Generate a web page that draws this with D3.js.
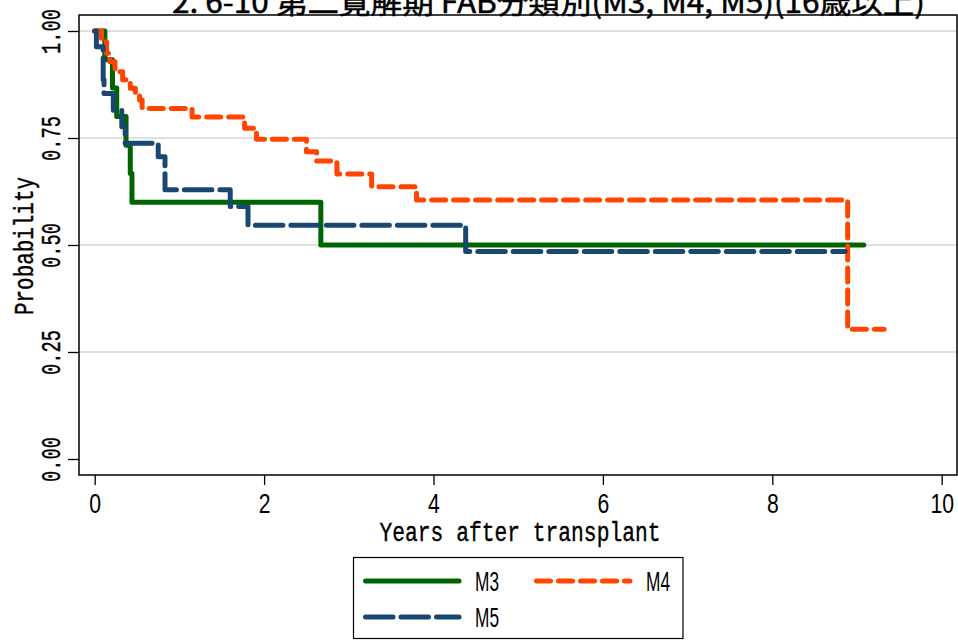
<!DOCTYPE html>
<html><head><meta charset="utf-8">
<script src="https://cdn.jsdelivr.net/npm/d3@7"></script>
<style>body{margin:0;background:#fff} svg{display:block}</style>
</head><body><svg id="c" width="958" height="641"></svg>
<script>
// ---- data ----
const titleText = "2. 6-10 第二寛解期 FAB分類別(M3, M4, M5)(16歳以上)";
const xLabel = "Years after transplant";
const yLabel = "Probability";
const xTicks = [0, 2, 4, 6, 8, 10];
const yTicks = [0, 0.25, 0.5, 0.75, 1];
const yTickLabels = ["0.00", "0.25", "0.50", "0.75", "1.00"];
const seriesNames = ["M3", "M4", "M5"];
const seriesColors = ["#006400", "#ff4500", "#1a476f"];
const m3Times = [0, 0.12, 0.21, 0.26, 0.37, 0.42, 0.44, 2.67, 9.08];
const m3Surv  = [1, 0.933, 0.867, 0.8, 0.733, 0.667, 0.6, 0.5, 0.5];
const m4Times = [0, 0.08, 0.14, 0.18, 0.24, 0.33, 0.42, 0.48, 0.53, 0.56, 1.15, 1.77, 1.91, 2.50, 2.62, 2.86, 3.27, 3.80, 8.89, 9.32];
const m4Surv  = [1, 0.975, 0.948, 0.928, 0.905, 0.886, 0.866, 0.850, 0.839, 0.819, 0.799, 0.773, 0.747, 0.718, 0.696, 0.666, 0.636, 0.605, 0.303, 0.303];
const m5Times = [0, 0.02, 0.10, 0.11, 0.22, 0.32, 0.36, 0.75, 0.83, 1.60, 1.81, 4.38, 8.86];
const m5Surv  = [1, 0.963, 0.886, 0.854, 0.815, 0.776, 0.738, 0.706, 0.629, 0.59, 0.546, 0.485, 0.485];

// ---- layout ----
const svg = d3.select("#c");
const frame = {l: 79, t: 15, r: 957, b: 475};
const x = d3.scaleLinear().domain([0, 10]).range([94.7, 941.7]);
const y = d3.scaleLinear().domain([0, 1]).range([459, 31]);
const monoFont = "'Liberation Mono', 'DejaVu Sans Mono', monospace";
const digitFont = "'Liberation Sans', Arial, sans-serif";

svg.append("rect").attr("width", 958).attr("height", 641).attr("fill", "#fff");

// title
svg.append("text").attr("x", 172).attr("y", 12.5)
  .attr("font-family", "'Noto Sans CJK JP', sans-serif").attr("font-size", 30).attr("font-weight", 400)
  .attr("textLength", 753).attr("lengthAdjust", "spacingAndGlyphs")
  .attr("fill", "#000").attr("stroke", "#000").attr("stroke-width", 0.5).text(titleText);

// gridlines
svg.append("g").selectAll("line").data(yTicks.filter(d => d > 0)).join("line")
  .attr("x1", frame.l).attr("x2", frame.r)
  .attr("y1", d => y(d)).attr("y2", d => y(d))
  .attr("stroke", "#e0e0e0").attr("stroke-width", 2);

// axes
const gx = svg.append("g").attr("transform", `translate(0,${frame.b})`)
  .call(d3.axisBottom(x).tickValues(xTicks).tickSizeInner(10).tickSizeOuter(0).tickFormat(d3.format("d")));
gx.select(".domain").remove();
gx.selectAll(".tick line").attr("stroke", "#000").attr("stroke-width", 1.3);
gx.selectAll(".tick text").attr("y", 38).attr("dy", null)
  .attr("font-family", digitFont).attr("font-size", 27).attr("fill", "#000")
  .attr("textLength", d => String(d).length * 11.8).attr("lengthAdjust", "spacingAndGlyphs");

const gy = svg.append("g").attr("transform", `translate(${frame.l},0)`)
  .call(d3.axisLeft(y).tickValues(yTicks).tickSizeInner(11).tickSizeOuter(0).tickFormat((d, i) => yTickLabels[i]));
gy.select(".domain").remove();
gy.selectAll(".tick line").attr("stroke", "#000").attr("stroke-width", 1.3);
gy.selectAll(".tick text").attr("x", null).attr("dy", null).attr("text-anchor", "middle")
  .attr("transform", "translate(-19,0) rotate(-90)")
  .attr("font-family", monoFont).attr("font-size", 28).attr("fill", "#000")
  .attr("stroke", "#000").attr("stroke-width", 0.4)
  .attr("textLength", 45).attr("lengthAdjust", "spacingAndGlyphs");

// axis titles
svg.append("text").attr("x", 520).attr("y", 541).attr("text-anchor", "middle")
  .attr("font-family", monoFont).attr("font-size", 27)
  .attr("stroke", "#000").attr("stroke-width", 0.4)
  .attr("textLength", 281).attr("lengthAdjust", "spacingAndGlyphs").text(xLabel);
svg.append("text").attr("transform", "translate(33,246) rotate(-90)").attr("text-anchor", "middle")
  .attr("font-family", monoFont).attr("font-size", 27)
  .attr("stroke", "#000").attr("stroke-width", 0.4)
  .attr("textLength", 138).attr("lengthAdjust", "spacingAndGlyphs").text(yLabel);

// curves
const series = [
  {name: seriesNames[0], t: m3Times, s: m3Surv, color: seriesColors[0], dash: null},
  {name: seriesNames[1], t: m4Times, s: m4Surv, color: seriesColors[1], dash: "14,8"},
  {name: seriesNames[2], t: m5Times, s: m5Surv, color: seriesColors[2], dash: "27.5,8"}
];
const line = d3.line().x(d => x(d[0])).y(d => y(d[1])).curve(d3.curveStepAfter);
svg.append("g").selectAll("path").data(series).join("path")
  .attr("d", d => line(d.t.map((t, i) => [t, d.s[i]])))
  .attr("fill", "none").attr("stroke", d => d.color).attr("stroke-width", 5)
  .attr("stroke-linecap", "round").attr("stroke-linejoin", "round")
  .attr("stroke-dasharray", d => d.dash);

// frame
svg.append("rect").attr("x", frame.l).attr("y", frame.t)
  .attr("width", frame.r - frame.l).attr("height", frame.b - frame.t)
  .attr("fill", "none").attr("stroke", "#000").attr("stroke-width", 1.5);

// legend
const lg = svg.append("g");
lg.append("rect").attr("x", 353.5).attr("y", 557.5).attr("width", 329.5).attr("height", 81)
  .attr("fill", "#fff").attr("stroke", "#000").attr("stroke-width", 1.2);
const legPos = [{x: 363, y: 581}, {x: 534, y: 581}, {x: 363, y: 617}];
series.forEach((d, i) => {
  const p = legPos[i];
  lg.append("line").attr("x1", p.x + 2.5).attr("x2", p.x + 96).attr("y1", p.y).attr("y2", p.y)
    .attr("stroke", d.color).attr("stroke-width", 5).attr("stroke-linecap", "round")
    .attr("stroke-dasharray", d.dash);
  lg.append("text").attr("x", p.x + 112).attr("y", p.y + 10)
    .attr("font-family", digitFont).attr("font-size", 27)
    .attr("textLength", 24).attr("lengthAdjust", "spacingAndGlyphs").text(d.name);
});
</script></body></html>
